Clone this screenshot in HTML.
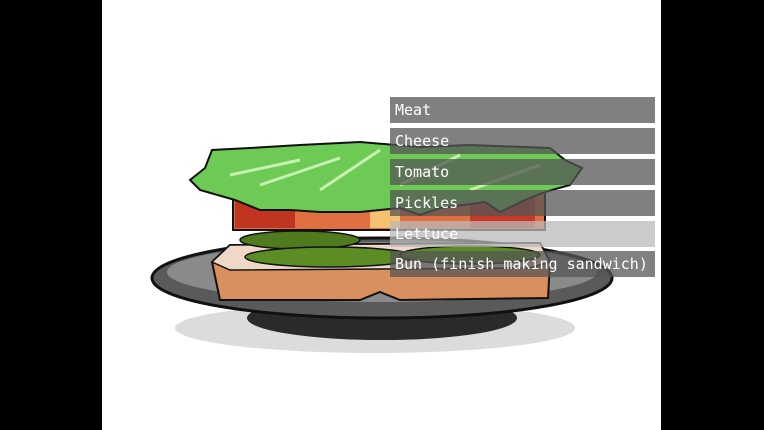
<!DOCTYPE html>
<html><head><meta charset="utf-8"><style>
html,body{margin:0;padding:0;background:#000;}
#s{position:relative;width:764px;height:430px;overflow:hidden;background:#000;}
#w{position:absolute;left:102px;top:0;width:559px;height:430px;background:#fff;}
svg{position:absolute;left:0;top:0;}
.r{position:absolute;left:390px;width:265px;height:26px;background:rgba(85,85,85,0.75);color:#fff;font-family:"DejaVu Sans Mono","Liberation Mono",monospace;font-size:15px;line-height:26px;text-indent:5px;white-space:nowrap;}
.r.h{background:rgba(185,185,185,0.75);}
</style></head><body><div id="s"><div id="w"></div>
<svg width="764" height="430" viewBox="0 0 764 430">
<ellipse cx="375" cy="328" rx="200" ry="25" fill="#dcdcdc"/>
<ellipse cx="382" cy="318" rx="135" ry="22" fill="#2a2a2a"/>
<ellipse cx="382" cy="278" rx="230" ry="40" fill="#5a5a5a" stroke="#111" stroke-width="3"/>
<ellipse cx="382" cy="272" rx="215" ry="30" fill="#8a8a8a"/>
<path d="M212,262 L230,245 L540,243 L550,262 L548,298 L400,300 L380,292 L360,300 L220,300 Z" fill="#d9905e" stroke="#111" stroke-width="2"/>
<path d="M212,262 L230,245 L540,243 L550,262 L530,268 L230,270 Z" fill="#efd8c8" stroke="#111" stroke-width="1.5"/>
<ellipse cx="300" cy="240" rx="60" ry="9" fill="#4f7a1e" stroke="#111" stroke-width="1.5"/>
<ellipse cx="330" cy="257" rx="85" ry="10" fill="#5c8c24" stroke="#111" stroke-width="1.5"/>
<ellipse cx="470" cy="255" rx="70" ry="9" fill="#5c8c24" stroke="#111" stroke-width="1.5"/>
<path d="M233,192 L545,190 L545,230 L233,230 Z" fill="#e07040" stroke="#111" stroke-width="2"/>
<rect x="235" y="198" width="60" height="30" fill="#c03520"/>
<rect x="370" y="198" width="30" height="30" fill="#f5c070"/>
<rect x="470" y="198" width="65" height="30" fill="#c83a28"/>
<path d="M190,180 L205,168 L212,150 L250,148 L300,145 L360,142 L420,147 L470,145 L550,148 L565,160 L582,168 L570,185 L545,192 L525,200 L500,212 L485,202 L440,208 L420,215 L400,208 L360,212 L320,212 L290,210 L260,210 L235,200 L200,190 Z" fill="#6dcb55" stroke="#111" stroke-width="2"/>
<path d="M230,175 L300,160 M260,185 L340,158 M320,190 L380,150 M400,185 L460,155 M470,190 L540,165" stroke="#c8f0b0" stroke-width="3"/>
</svg>
<div class="r" style="top:97px">Meat</div>
<div class="r" style="top:128px">Cheese</div>
<div class="r" style="top:159px">Tomato</div>
<div class="r" style="top:190px">Pickles</div>
<div class="r h" style="top:221px">Lettuce</div>
<div class="r" style="top:251px">Bun (finish making sandwich)</div>
</div></body></html>
